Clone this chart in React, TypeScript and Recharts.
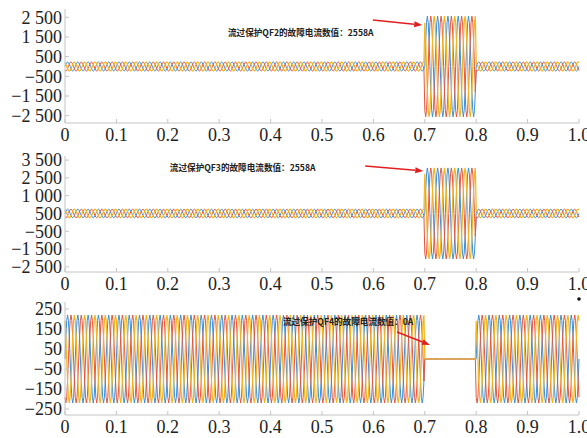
import { LineChart, Line, XAxis, YAxis, ReferenceLine, ReferenceDot } from "recharts";

// time axis: 0..1 s, 50 Hz (5 cycles per 0.1 s counted in the picture)
const cyclesPerSecond = 50;
// one period of the waveform, 12 samples, normalised
const cycleShape = [0, 0.5, 0.87, 1, 0.87, 0.5, 0, -0.5, -0.87, -1, -0.87, -0.5];
// three phases, 120° apart (in samples)
const phaseOffsets = [0, 8, 4];
const phaseKeys = ["a", "b", "c"];
const phaseColors = ["#3a8fd9", "#e8553a", "#f4b41e"];
const phaseWidths = [1, 1, 1.2];

// fault window 0.7–0.8 s
const segmentEdges = [0, 0.7, 0.8, 1.0];
const qf2Amps = [230, 2558, 230];
const qf3Amps = [240, 2558, 240];
const qf4Amps = [220, 0, 220];

const xTicks = [0, 0.1, 0.2, 0.3, 0.4, 0.5, 0.6, 0.7, 0.8, 0.9, 1.0];
const xLabels = ["0", "0.1", "0.2", "0.3", "0.4", "0.5", "0.6", "0.7", "0.8", "0.9", "1.0"];

const qf2Ticks = [2500, 1500, 500, -500, -1500, -2500];
const qf2Labels = ["2 500", "1 500", "500", "−500", "−1 500", "−2 500"];
const qf3Ticks = [3000, 2000, 1000, 0, -1000, -2000, -3000];
const qf3Labels = ["3 500", "2 500", "1 000", "500", "−500", "−1 500", "−2 500"];
const qf4Ticks = [250, 150, 50, -50, -150, -250];
const qf4Labels = ["250", "150", "50", "−50", "−150", "−250"];

function buildSeries(amps: number[]) {
  const n = cyclesPerSecond * cycleShape.length;
  const rows: any[] = [];
  for (let i = 0; i <= n; i++) {
    const t = i / n;
    let seg = 0;
    while (seg < amps.length - 1 && t >= segmentEdges[seg + 1]) seg++;
    const row: any = { t };
    phaseKeys.forEach((k, p) => {
      row[k] = amps[seg] * cycleShape[(i + phaseOffsets[p]) % cycleShape.length];
    });
    rows.push(row);
  }
  return rows;
}

const Arrow = (p: any) => {
  const { x1, y1, x2, y2 } = p;
  const ang = Math.atan2(y2 - y1, x2 - x1);
  const L = 8, W = 3;
  const bx = x2 - L * Math.cos(ang), by = y2 - L * Math.sin(ang);
  const px = -Math.sin(ang) * W, py = Math.cos(ang) * W;
  return (
    <g>
      <line x1={x1} y1={y1} x2={bx} y2={by} stroke="#e02020" strokeWidth={1.5} />
      <polygon points={`${x2},${y2} ${bx + px},${by + py} ${bx - px},${by - py}`} fill="#e02020" />
    </g>
  );
};

const serif = "'Liberation Serif', 'Times New Roman', 'DejaVu Serif', serif";
const tickFont = { fontFamily: serif, fontSize: 18, fill: "#222" };
const axisStroke = "#c4c4c4";

interface PanelProps {
  top: number;
  height: number;
  marginTop: number;
  marginBottom: number;
  xHeight: number;
  amps: number[];
  domain: [number, number];
  yTicks: number[];
  yLabels: string[];
  note: string;
  noteAt: [number, number];
  arrow: [number, number, number, number];
  corner?: boolean;
}

function Panel(props: PanelProps) {
  const data = buildSeries(props.amps);
  return (
    <div style={{ position: "absolute", left: 0, top: props.top, fontFamily: serif }}>
      <LineChart
        width={587}
        height={props.height}
        data={data}
        margin={{ top: props.marginTop, right: 8, bottom: props.marginBottom, left: 0 }}
      >
        <XAxis
          dataKey="t"
          type="number"
          domain={[0, 1]}
          ticks={xTicks}
          tickFormatter={(v) => xLabels[xTicks.indexOf(v)] ?? String(v)}
          tick={tickFont}
          height={props.xHeight}
          tickSize={-4}
          tickMargin={9}
          stroke={axisStroke}
          interval={0}
        />
        <XAxis
          xAxisId="top"
          orientation="top"
          dataKey="t"
          type="number"
          domain={[0, 1]}
          ticks={xTicks}
          height={0}
          tick={false}
          tickSize={-4}
          stroke={axisStroke}
          interval={0}
        />
        <YAxis
          type="number"
          domain={props.domain}
          allowDataOverflow
          ticks={props.yTicks}
          tickFormatter={(v) => props.yLabels[props.yTicks.indexOf(v)] ?? String(v)}
          tick={tickFont}
          width={65}
          tickSize={-4}
          tickMargin={7}
          stroke={axisStroke}
          interval={0}
        />
        <YAxis
          yAxisId="right"
          orientation="right"
          type="number"
          domain={props.domain}
          allowDataOverflow
          ticks={props.yTicks}
          width={0}
          tick={false}
          tickSize={-4}
          stroke={axisStroke}
          interval={0}
        />
        {phaseKeys.map((k, i) => (
          <Line
            key={k}
            dataKey={k}
            stroke={phaseColors[i]}
            strokeWidth={phaseWidths[i]}
            dot={false}
            isAnimationActive={false}
            type="linear"
          />
        ))}
        <ReferenceLine
          segment={[
            { x: props.arrow[0], y: props.arrow[1] },
            { x: props.arrow[2], y: props.arrow[3] },
          ]}
          shape={Arrow}
          ifOverflow="visible"
        />
        <ReferenceDot
          x={props.noteAt[0]}
          y={props.noteAt[1]}
          r={0}
          ifOverflow="visible"
          shape={(p: any) => (
            <text x={p.cx} y={p.cy} dy="0.35em" fontFamily="Noto Sans CJK SC" fontWeight={700} fontSize={8.6} fill="#222">
              {props.note}
            </text>
          )}
        />
        {props.corner && (
          <ReferenceDot x={1} y={300} r={1.8} fill="#111" stroke="none" ifOverflow="visible" />
        )}
      </LineChart>
    </div>
  );
}

export default function App() {
  return (
    <div style={{ position: "absolute", left: 0, top: 0, width: 587, height: 438, background: "#fff" }}>
      <Panel
        top={0}
        height={151}
        marginTop={9}
        marginBottom={6}
        xHeight={22}
        amps={qf2Amps}
        domain={[-2870, 2920]}
        yTicks={qf2Ticks}
        yLabels={qf2Labels}
        note="流过保护QF2的故障电流数值：2558A"
        noteAt={[0.317, 1700]}
        arrow={[0.599, 2360, 0.695, 2110]}
      />
      <Panel
        top={145}
        height={151}
        marginTop={11}
        marginBottom={6}
        xHeight={18}
        amps={qf3Amps}
        domain={[-3290, 3230]}
        yTicks={qf3Ticks}
        yLabels={qf3Labels}
        note="流过保护QF3的故障电流数值：2558A"
        noteAt={[0.204, 2556]}
        arrow={[0.584, 2670, 0.697, 2390]}
      />
      <Panel
        top={290}
        height={148}
        marginTop={12}
        marginBottom={0}
        xHeight={23}
        amps={qf4Amps}
        domain={[-280, 285]}
        yTicks={qf4Ticks}
        yLabels={qf4Labels}
        note="流过保护QF4的故障电流数值：0A"
        noteAt={[0.424, 185]}
        arrow={[0.646, 135, 0.71, 70]}
        corner
      />
    </div>
  );
}
